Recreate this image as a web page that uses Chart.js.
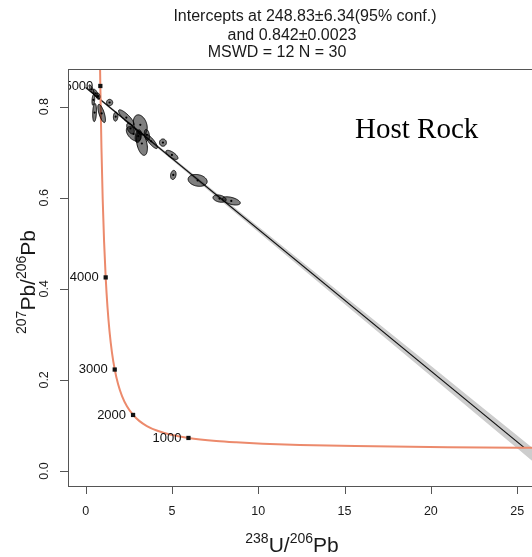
<!DOCTYPE html>
<html>
<head>
<meta charset="utf-8">
<script src="https://cdn.jsdelivr.net/npm/chart.js@4/dist/chart.umd.min.js"></script>
<style>
html, body { margin: 0; padding: 0; background: #fff; overflow: hidden; }
canvas { display: block; }
</style>
</head>
<body>
<canvas id="myChart" width="550" height="557"></canvas>
<script>
// concordia line (238U/206Pb vs 207Pb/206Pb)
const concordiaX = [0.8293, 0.8533, 0.9180, 0.9902, 1.0714, 1.1630, 1.2673, 1.3869, 1.5253, 1.6874, 1.8796, 2.1108, 2.3941, 2.7490, 3.1046, 3.5497, 4.1227, 4.8875, 5.9594, 7.5684, 8.7182, 10.2518, 12.399, 15.621, 20.992, 25.289, 27.531];
const concordiaY = [0.9071, 0.8453, 0.7095, 0.5967, 0.5030, 0.4250, 0.3600, 0.3058, 0.2605, 0.2227, 0.1909, 0.1643, 0.1419, 0.1230, 0.1100, 0.0987, 0.0888, 0.0801, 0.0725, 0.0658, 0.0628, 0.0599, 0.0572, 0.0547, 0.0523, 0.0512, 0.0508];

// age ticks on the concordia
const ageLabels = ['1000', '2000', '3000', '4000', '5000'];
const ageX = [5.959, 2.749, 1.687, 1.163, 0.853];
const ageY = [0.0725, 0.1230, 0.2227, 0.4250, 0.8453];

// discordia and its confidence band
const discordiaX = [0, 25.41];
const discordiaY = [0.842, 0.0512];
const bandX = [0, 2.5, 5, 7.5, 10, 12.5, 15, 17.5, 20, 22.5, 25, 26];
const bandUpper = [0.8443, 0.7669, 0.6900, 0.6133, 0.5368, 0.4603, 0.3838, 0.3073, 0.2308, 0.1544, 0.0779, 0.0473];
const bandLower = [0.8397, 0.7615, 0.6828, 0.6039, 0.5248, 0.4458, 0.3666, 0.2875, 0.2084, 0.1292, 0.0501, 0.0183];

// analyses: centre, half-widths of the error ellipse, correlation
const ellX = [0.35, 0.58, 0.72, 0.52, 0.93, 0.45, 1.39, 1.74, 2.36, 2.60, 3.17, 2.78, 3.05, 3.26, 3.55, 3.80, 4.48, 5.00, 5.08, 6.49, 7.76, 8.44];
const ellY = [0.838, 0.829, 0.823, 0.787, 0.785, 0.815, 0.809, 0.778, 0.776, 0.752, 0.760, 0.740, 0.735, 0.719, 0.738, 0.724, 0.721, 0.694, 0.650, 0.638, 0.598, 0.593];
const ellSx = [0.15, 0.14, 0.11, 0.11, 0.22, 0.08, 0.18, 0.13, 0.45, 0.22, 0.40, 0.42, 0.18, 0.32, 0.15, 0.36, 0.20, 0.35, 0.16, 0.55, 0.38, 0.52];
const ellSy = [0.010, 0.009, 0.007, 0.020, 0.020, 0.012, 0.007, 0.010, 0.017, 0.012, 0.022, 0.016, 0.014, 0.026, 0.012, 0.016, 0.008, 0.010, 0.010, 0.013, 0.008, 0.009];
const ellRho = [-0.8, -0.6, -0.2, 0.2, -0.7, 0.3, 0.0, 0.1, -0.85, -0.5, -0.3, -0.5, 0.3, -0.4, -0.3, -0.85, 0.0, -0.7, 0.2, -0.2, -0.3, -0.5];

const xTicks = [0, 5, 10, 15, 20, 25];
const yTicks = [0, 0.2, 0.4, 0.6, 0.8];
const yTickLabels = ['0.0', '0.2', '0.4', '0.6', '0.8'];
const titleLines = ['Intercepts at 248.83\u00b16.34(95% conf.)', 'and 0.842\u00b10.0023', 'MSWD = 12 N = 30'];
const sampleName = 'Host Rock';

const toPoints = (xs, ys) => xs.map((x, i) => ({ x: x, y: ys[i] }));

function drawSupText(ctx, parts, bigSize, smallSize, rise) {
    let total = 0;
    parts.forEach(p => {
        ctx.font = (p.sup ? smallSize : bigSize) + 'px "Liberation Sans", Arial, sans-serif';
        p.w = ctx.measureText(p.t).width;
        total += p.w;
    });
    let x = -total / 2;
    ctx.textAlign = 'left';
    ctx.textBaseline = 'alphabetic';
    parts.forEach(p => {
        ctx.font = (p.sup ? smallSize : bigSize) + 'px "Liberation Sans", Arial, sans-serif';
        ctx.fillText(p.t, x, p.sup ? -rise : 0);
        x += p.w;
    });
}

const overlay = {
    id: 'overlay',
    afterDatasetsDraw(chart) {
        const ctx = chart.ctx;
        const xs = chart.scales.x, ys = chart.scales.y;
        const a = chart.chartArea;
        ctx.save();
        ctx.beginPath();
        ctx.rect(a.left, a.top, a.right - a.left, a.bottom - a.top);
        ctx.clip();
        // error ellipses
        for (let i = 0; i < ellX.length; i++) {
            const r = ellRho[i], q = Math.sqrt(1 - r * r);
            ctx.beginPath();
            for (let k = 0; k <= 60; k++) {
                const th = k / 60 * Math.PI * 2;
                const px = xs.getPixelForValue(ellX[i] + ellSx[i] * Math.cos(th));
                const py = ys.getPixelForValue(ellY[i] + ellSy[i] * (r * Math.cos(th) + q * Math.sin(th)));
                if (k === 0) ctx.moveTo(px, py); else ctx.lineTo(px, py);
            }
            ctx.closePath();
            ctx.fillStyle = 'rgba(0, 0, 0, 0.5)';
            ctx.fill();
            ctx.strokeStyle = '#000';
            ctx.lineWidth = 0.9;
            ctx.stroke();
        }
        ctx.fillStyle = '#000';
        for (let i = 0; i < ellX.length; i++) {
            ctx.beginPath();
            ctx.arc(xs.getPixelForValue(ellX[i]), ys.getPixelForValue(ellY[i]), 1.1, 0, Math.PI * 2);
            ctx.fill();
        }
        // age labels
        ctx.font = '13px "Liberation Sans", Arial, sans-serif';
        ctx.textAlign = 'right';
        ctx.textBaseline = 'middle';
        ctx.fillStyle = '#111';
        for (let i = 0; i < ageLabels.length; i++) {
            ctx.fillText(ageLabels[i], xs.getPixelForValue(ageX[i]) - 7, ys.getPixelForValue(ageY[i]));
        }
        ctx.restore();
    },
    afterDraw(chart) {
        const ctx = chart.ctx;
        const xs = chart.scales.x, ys = chart.scales.y;
        const a = chart.chartArea;
        ctx.save();
        // frame
        ctx.strokeStyle = '#555';
        ctx.lineWidth = 1;
        ctx.strokeRect(Math.round(a.left) + 0.5, Math.round(a.top) + 0.5, a.right - a.left, a.bottom - a.top);
        // ticks
        ctx.beginPath();
        xTicks.forEach(v => {
            const px = Math.round(xs.getPixelForValue(v)) + 0.5;
            ctx.moveTo(px, a.bottom);
            ctx.lineTo(px, a.bottom + 8);
        });
        yTicks.forEach(v => {
            const py = Math.round(ys.getPixelForValue(v)) + 0.5;
            ctx.moveTo(a.left, py);
            ctx.lineTo(a.left - 8, py);
        });
        ctx.stroke();
        ctx.fillStyle = '#1a1a1a';
        ctx.font = '12.5px "Liberation Sans", Arial, sans-serif';
        ctx.textAlign = 'center';
        ctx.textBaseline = 'middle';
        xTicks.forEach(v => ctx.fillText(String(v), xs.getPixelForValue(v), 512));
        yTicks.forEach((v, i) => {
            ctx.save();
            ctx.translate(45, ys.getPixelForValue(v));
            ctx.rotate(-Math.PI / 2);
            ctx.fillText(yTickLabels[i], 0, 0);
            ctx.restore();
        });
        // title
        ctx.font = '16px "Liberation Sans", Arial, sans-serif';
        ctx.fillText(titleLines[0], 305, 17);
        ctx.fillText(titleLines[1], 292, 36);
        ctx.fillText(titleLines[2], 277, 53);
        // axis titles
        ctx.save();
        ctx.translate(292, 552);
        drawSupText(ctx, [{ t: '238', sup: true }, { t: 'U/', sup: false }, { t: '206', sup: true }, { t: 'Pb', sup: false }], 21, 14, 9);
        ctx.restore();
        ctx.save();
        ctx.translate(35, 282);
        ctx.rotate(-Math.PI / 2);
        drawSupText(ctx, [{ t: '207', sup: true }, { t: 'Pb/', sup: false }, { t: '206', sup: true }, { t: 'Pb', sup: false }], 21, 14, 9);
        ctx.restore();
        // sample name
        ctx.font = '29px "Liberation Serif", "Times New Roman", serif';
        ctx.textAlign = 'left';
        ctx.textBaseline = 'alphabetic';
        ctx.fillStyle = '#000';
        ctx.fillText(sampleName, 355, 138);
        ctx.restore();
    }
};

const ctx = document.getElementById('myChart').getContext('2d');
const myChart = new Chart(ctx, {
    type: 'scatter',
    data: {
        datasets: [{
            data: toPoints(bandX, bandLower),
            showLine: true,
            borderWidth: 0,
            pointRadius: 0,
            fill: false,
            order: 5,
        }, {
            data: toPoints(bandX, bandUpper),
            showLine: true,
            borderWidth: 0,
            pointRadius: 0,
            fill: '-1',
            backgroundColor: '#cdcdcd',
            order: 5,
        }, {
            data: toPoints(discordiaX, discordiaY),
            showLine: true,
            borderColor: '#111',
            borderWidth: 1.2,
            pointRadius: 0,
            order: 4,
        }, {
            data: toPoints(concordiaX, concordiaY),
            showLine: true,
            borderColor: '#ec8a6c',
            borderWidth: 2,
            pointRadius: 0,
            cubicInterpolationMode: 'monotone',
            order: 3,
        }, {
            data: toPoints(ageX, ageY),
            pointStyle: 'rect',
            pointRadius: 3,
            backgroundColor: '#111',
            borderColor: '#111',
            borderWidth: 0,
            order: 2,
        }],
    },
    options: {
        responsive: false,
        animation: false,
        layout: { padding: { left: 68, top: 69, right: 8, bottom: 71 } },
        scales: {
            x: { type: 'linear', min: -1.02, max: 26.44, display: false },
            y: { type: 'linear', min: -0.033, max: 0.8826, display: false },
        },
        plugins: {
            legend: { display: false },
            tooltip: { enabled: false },
        },
    },
    plugins: [overlay],
});
</script>
</body>
</html>
